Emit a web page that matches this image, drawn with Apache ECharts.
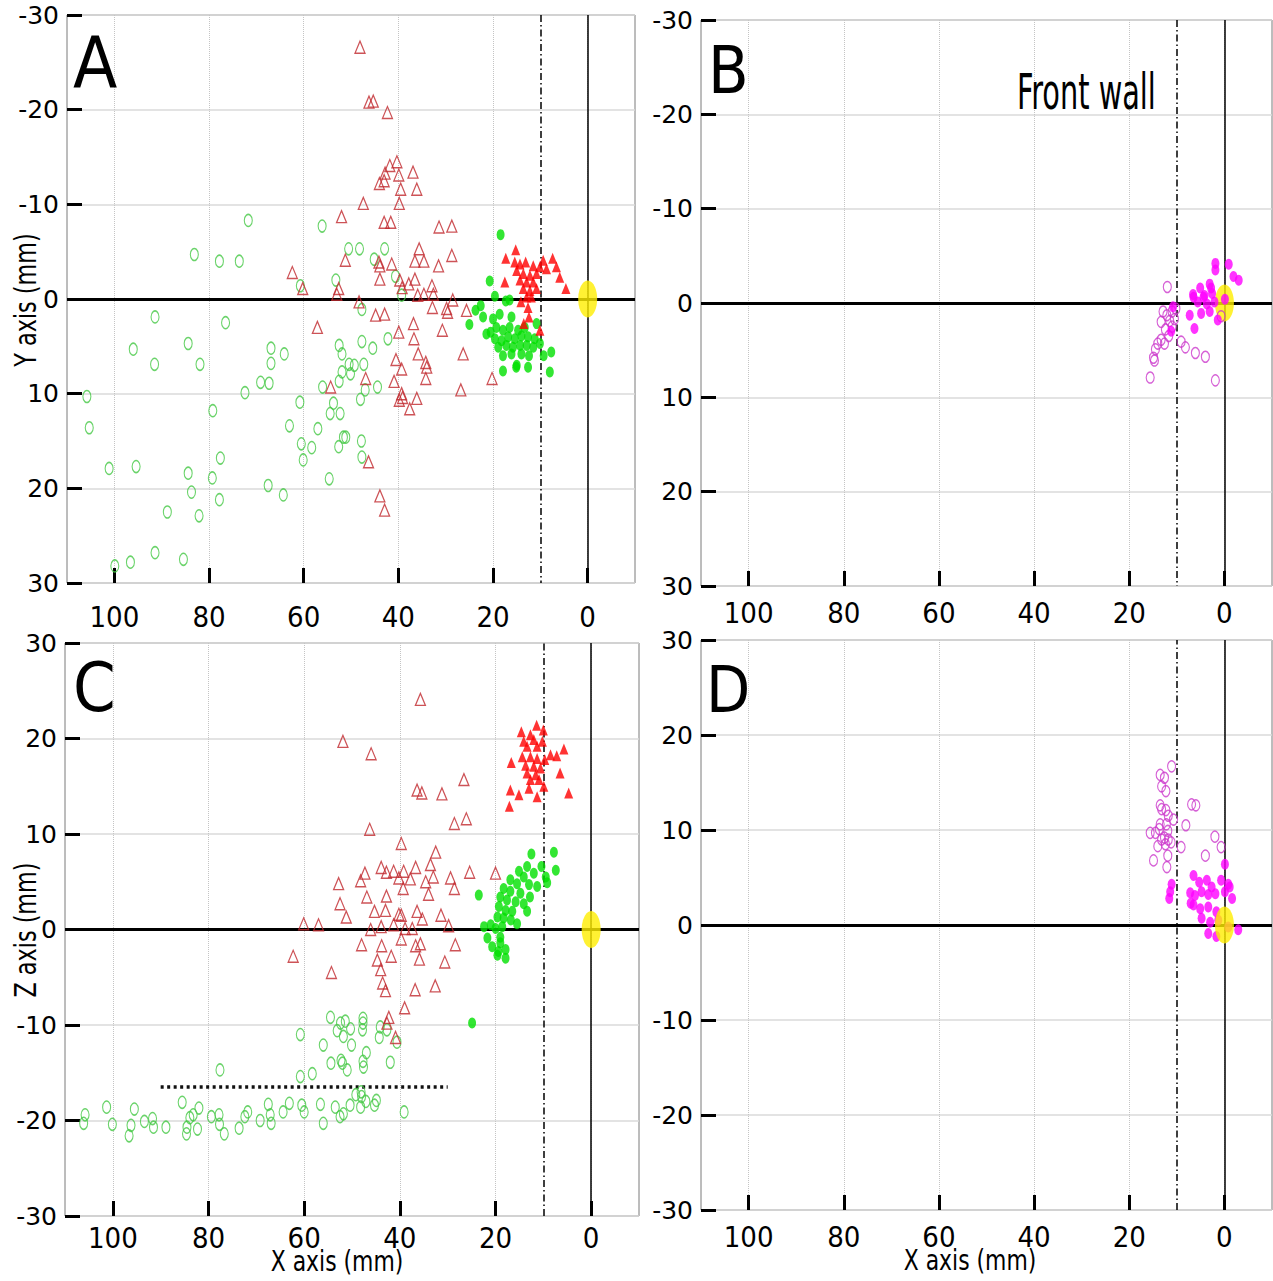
<!DOCTYPE html>
<html><head><meta charset="utf-8">
<script src="https://cdn.jsdelivr.net/npm/echarts@6/dist/echarts.min.js"></script>
<style>html,body{margin:0;padding:0;background:#fff}#c{width:1273px;height:1281px}</style>
</head><body><div id="c"></div>
<script>
// ---- tick labels ----
const xTicks = [0, 20, 40, 60, 80, 100];
const yTicks = [-30, -20, -10, 0, 10, 20, 30];
const origin = [[0, 0]];
const wallX = 10;
const dottedSegC = [[90, -16.5], [30, -16.5]];

// ---- Panel A (X vs Y) ----
const A_greenOpen = [[71.7,-8.3],[83.1,-4.7],[77.8,-4.0],[73.6,-4.0],[60.7,-1.4],[91.4,1.9],[76.5,2.5],[96.0,5.3],[84.4,4.7],[91.5,6.9],[81.9,6.9],[66.9,5.2],[66.9,6.8],[64.1,5.8],[69.1,8.8],[67.3,8.9],[72.4,9.9],[105.8,10.3],[79.2,11.8],[60.8,10.9],[105.3,13.6],[63.0,13.4],[60.5,15.3],[58.3,15.7],[60.1,17.0],[57.0,13.7],[101.1,17.9],[95.4,17.7],[77.6,16.8],[79.3,18.9],[84.4,18.4],[83.7,20.4],[67.5,19.7],[64.3,20.7],[77.8,21.2],[88.8,22.5],[82.1,22.9],[91.4,26.8],[96.6,27.8],[99.9,28.2],[85.4,27.5],[56.1,-7.7],[50.5,-5.3],[48.2,-5.3],[42.9,-5.3],[45.1,-4.2],[53.2,-2.0],[40.6,-2.4],[39.3,-0.4],[47.7,1.1],[52.5,4.9],[51.9,5.8],[47.7,4.5],[45.4,5.2],[42.2,4.2],[50.4,6.9],[49.3,7.0],[47.3,6.9],[51.9,7.7],[50.1,7.9],[52.5,8.7],[47.0,9.6],[44.4,9.3],[56.0,9.3],[48.0,10.6],[53.7,11.0],[54.4,12.1],[52.3,12.1],[51.6,14.6],[51.1,14.6],[47.8,15.0],[52.6,15.6],[47.7,16.7],[54.6,19.0]];
const A_redOpen = [[48.1,-26.6],[46.2,-20.8],[45.3,-20.9],[42.3,-19.7],[40.3,-14.5],[41.8,-14.1],[42.8,-13.3],[39.9,-13.1],[36.9,-13.4],[44.0,-12.2],[43.0,-12.5],[39.5,-11.6],[36.1,-11.6],[47.4,-10.1],[39.8,-10.1],[52.0,-8.7],[43.0,-8.1],[41.6,-8.1],[31.4,-7.6],[28.7,-7.7],[35.6,-5.3],[28.7,-4.6],[51.2,-4.1],[44.1,-3.9],[43.9,-3.5],[41.4,-3.7],[36.5,-4.0],[34.6,-4.0],[31.5,-3.5],[43.9,-2.1],[39.7,-2.0],[37.8,-1.6],[36.5,-2.1],[32.9,-1.4],[39.2,-1.2],[34.6,-0.5],[35.9,-0.4],[32.6,-0.5],[60.2,-1.1],[52.6,-1.1],[53.0,-0.5],[48.3,0.3],[28.5,0.1],[32.8,0.9],[29.8,1.0],[29.6,1.4],[25.6,1.2],[44.8,1.7],[42.9,1.6],[57.1,3.0],[36.8,2.6],[30.7,3.3],[39.9,3.5],[36.7,4.2],[35.8,5.8],[26.3,5.8],[40.5,6.4],[39.3,7.4],[34.2,6.7],[34.0,7.2],[46.9,8.4],[40.9,8.7],[34.2,8.4],[54.3,9.3],[26.8,9.6],[39.3,10.0],[39.1,10.4],[39.8,10.7],[36.1,10.5],[37.6,11.6],[46.3,17.2],[43.9,20.8],[42.9,22.3],[62.4,-2.8],[20.2,8.4]];
const A_greenFill = [[18.4,-6.8],[20.7,-1.9],[19.6,-0.3],[17.3,0.2],[16.5,0.1],[22.6,0.7],[23.7,1.2],[22.1,1.9],[25.0,2.7],[20.0,2.1],[18.6,1.6],[16.1,1.9],[21.4,3.7],[19.3,3.0],[17.9,3.3],[16.5,3.0],[14.7,3.3],[13.3,3.0],[19.6,4.2],[18.2,4.4],[16.8,4.0],[15.4,4.2],[14.0,3.9],[12.6,4.0],[11.2,4.2],[18.9,5.1],[17.2,4.9],[15.8,5.1],[14.3,4.9],[12.9,4.9],[11.5,5.1],[10.1,4.7],[17.9,6.0],[16.1,5.8],[14.0,5.8],[12.4,6.0],[9.3,6.0],[7.7,5.6],[8.0,7.7],[17.9,7.6],[15.0,7.0],[12.6,7.2],[10.8,2.6],[15.1,7.2],[20.5,3.5]];
const A_redFill = [[15.2,-5.2],[17.3,-4.3],[7.4,-4.3],[14.3,-3.7],[13.1,-3.9],[11.5,-3.5],[10.1,-3.4],[8.7,-3.2],[6.6,-3.4],[5.9,-2.3],[4.6,-1.1],[17.5,-1.8],[15.0,-3.0],[13.6,-2.7],[12.2,-2.5],[10.8,-2.7],[14.3,-2.0],[12.9,-1.8],[11.5,-1.8],[13.6,-1.1],[12.2,-0.9],[10.8,-1.1],[11.9,-0.2],[14.1,0.3],[12.6,0.9],[12.4,1.9],[13.5,2.6],[10.1,3.3],[12.9,-0.2],[15.4,-3.9],[9.4,-4.1]];

// ---- Panel B (X vs Y) ----
const B_magOpen = [[12.0,-1.7],[12.9,0.9],[12.1,1.3],[13.3,2.0],[11.5,1.9],[11.0,0.9],[10.5,1.7],[12.4,2.8],[11.7,3.5],[13.3,3.9],[14.0,4.3],[12.6,4.3],[14.5,4.9],[14.9,5.8],[14.7,6.1],[15.6,7.9],[9.1,4.1],[8.2,4.7],[6.1,5.3],[4.0,5.7],[1.9,8.2],[0.7,1.4],[11.0,2.5],[10.2,0.6]];
const B_magFill = [[1.9,-4.2],[1.9,-3.5],[-0.9,-4.1],[-1.9,-2.8],[-3.0,-2.4],[5.1,-1.6],[3.1,-2.0],[6.6,-0.9],[4.2,-0.8],[2.6,-1.0],[5.6,-0.1],[3.7,0.1],[2.1,-0.1],[7.3,1.3],[4.9,1.1],[3.1,0.9],[6.3,2.7],[1.4,1.8],[-0.1,-0.4],[10.8,0.4],[11.2,3.0],[4.4,-0.6],[6.5,-0.6],[2.8,-1.6]];

// ---- Panel C (X vs Z) ----
const C_greenOpen = [[54.5,-9.2],[52.4,-9.8],[51.4,-9.6],[53.1,-10.6],[50.3,-10.4],[51.8,-11.2],[47.7,-9.3],[47.7,-9.8],[47.8,-10.5],[44.1,-10.2],[44.3,-11.3],[42.7,-10.5],[40.6,-11.8],[60.8,-11.0],[56.0,-12.1],[50.1,-12.1],[47.0,-12.9],[54.4,-14.0],[52.3,-13.7],[52.0,-14.0],[51.0,-14.7],[47.7,-13.8],[47.6,-14.4],[42.0,-13.9],[60.8,-15.4],[58.3,-15.1],[77.6,-14.7],[105.8,-19.4],[106.1,-20.3],[101.3,-18.6],[100.1,-20.4],[96.6,-21.6],[96.2,-20.5],[95.5,-18.8],[93.4,-20.1],[91.7,-19.8],[91.5,-20.7],[88.9,-20.7],[85.5,-18.1],[84.5,-20.7],[84.6,-21.4],[83.9,-19.7],[83.2,-19.4],[82.0,-18.7],[82.3,-20.9],[79.4,-19.6],[77.8,-19.4],[77.7,-20.4],[76.7,-21.4],[73.6,-20.8],[72.4,-19.6],[71.8,-19.1],[69.2,-20.0],[67.5,-18.3],[67.1,-19.4],[66.9,-20.3],[64.4,-19.1],[63.1,-18.2],[60.5,-18.4],[60.0,-19.1],[56.6,-18.3],[56.0,-20.3],[53.5,-18.6],[52.5,-19.6],[51.8,-19.3],[50.4,-18.4],[49.2,-17.3],[48.1,-17.0],[48.0,-17.5],[47.1,-18.0],[48.2,-18.6],[45.3,-18.4],[44.9,-17.9],[39.1,-19.1]];
const C_redOpen = [[35.7,24.1],[51.9,19.7],[46.0,18.4],[36.4,14.6],[35.4,14.3],[31.2,14.2],[26.6,15.7],[28.6,11.1],[26.1,11.6],[46.3,10.5],[39.7,9.0],[32.5,8.1],[43.9,6.5],[42.8,6.0],[41.3,6.1],[39.2,6.1],[36.7,6.5],[33.6,6.8],[33.0,5.5],[34.6,5.0],[40.2,5.4],[37.8,5.3],[47.3,5.9],[48.2,5.1],[29.4,5.4],[28.6,4.3],[25.4,6.0],[20.0,5.9],[52.8,4.8],[39.3,4.3],[34.0,3.7],[42.8,3.5],[46.9,3.4],[52.5,2.7],[51.2,1.3],[45.3,1.9],[43.0,2.0],[36.4,1.9],[35.3,1.1],[31.4,1.5],[40.2,1.6],[39.7,1.5],[41.3,0.5],[38.9,0.1],[37.4,0.1],[29.8,0.4],[46.1,0.0],[43.9,0.3],[60.1,0.6],[57.0,0.5],[48.0,-1.6],[43.8,-1.7],[39.7,-1.0],[36.7,-1.7],[35.7,-1.5],[28.4,-1.6],[62.3,-2.8],[44.7,-3.2],[41.8,-2.8],[35.9,-3.1],[30.6,-3.4],[54.3,-4.5],[44.0,-4.2],[43.6,-5.6],[43.0,-6.4],[36.8,-6.3],[32.6,-5.9],[39.0,-8.2],[42.3,-9.2],[42.7,-9.8],[40.9,-11.3]];
const C_greenFill = [[23.5,3.6],[24.9,-9.8],[7.8,8.1],[7.4,6.2],[12.5,7.9],[10.4,6.6],[9.5,5.5],[9.2,4.9],[13.4,6.6],[15.1,6.1],[14.1,5.5],[12.0,5.9],[16.9,5.2],[15.5,4.8],[13.0,4.7],[11.3,4.5],[18.3,4.3],[16.9,4.0],[14.8,3.8],[12.8,3.4],[19.0,3.4],[17.6,3.1],[15.8,2.9],[14.1,2.7],[19.3,2.4],[17.9,2.0],[16.5,1.9],[13.4,1.9],[19.6,1.3],[18.3,1.2],[16.8,1.0],[15.5,0.6],[22.4,0.3],[21.0,0.5],[20.0,0.1],[18.6,0.3],[21.7,-0.9],[19.0,-0.8],[20.7,-1.8],[19.4,-2.3],[17.9,-2.1],[17.9,-3.0],[19.6,-2.7],[19.0,-1.4]];
const C_redFill = [[11.4,21.4],[10.0,20.9],[14.6,20.7],[12.7,20.4],[14.1,19.7],[12.0,19.9],[10.2,19.7],[13.4,19.2],[11.3,19.2],[8.5,18.3],[7.2,18.2],[5.7,18.9],[16.7,17.5],[14.4,18.1],[12.7,18.1],[11.3,17.9],[9.7,17.8],[13.7,17.2],[12.0,17.1],[10.6,16.9],[13.4,16.4],[11.6,16.2],[6.5,16.4],[12.7,15.7],[10.9,15.7],[16.9,14.6],[15.1,14.1],[13.0,14.8],[11.3,13.9],[9.9,15.0],[4.7,14.3],[17.1,12.9]];

// ---- Panel D (X vs Z) ----
const D_magOpen = [[11.1,16.7],[13.5,15.8],[12.6,15.5],[13.2,14.6],[12.3,14.1],[13.5,12.6],[13.2,12.2],[12.3,12.1],[11.8,11.5],[6.9,12.7],[6.0,12.6],[13.5,10.6],[12.2,10.6],[10.7,11.1],[8.1,10.5],[15.6,9.7],[14.5,9.7],[13.7,10.1],[11.9,9.9],[12.6,9.2],[13.2,9.0],[11.8,9.0],[14.0,8.3],[12.4,8.5],[11.2,8.7],[9.1,8.2],[14.9,6.8],[11.9,7.3],[12.1,6.1],[2.0,9.3],[0.7,8.2],[4.0,7.3]];
const D_magFill = [[-0.1,6.4],[11.4,3.5],[11.1,4.3],[11.6,2.8],[6.5,5.2],[5.3,4.5],[3.7,4.7],[2.7,4.0],[0.7,4.7],[-0.8,4.3],[7.2,3.4],[6.2,3.1],[4.8,3.5],[3.4,3.2],[1.9,3.3],[-0.1,3.5],[-1.6,2.8],[6.5,2.1],[5.1,1.7],[3.4,1.9],[1.7,1.4],[4.8,0.7],[3.0,0.3],[1.3,0.5],[3.4,-0.9],[1.7,-1.2],[-2.9,-0.5],[-0.8,-0.2],[7.1,2.3],[-1.1,4.0]];

// ---------------- chart ----------------
const GREEN_O = '#45c845', RED_O = '#c0282d', GREEN_F = '#00e000', RED_F = '#ff0000',
      MAG_O = '#cc3acc', MAG_F = '#ff00ff', YEL = '#ffee00';
const grids = [
  {left: 67, top: 15, width: 568, height: 568},
  {left: 701, top: 20, width: 571, height: 566},
  {left: 65, top: 643, width: 574, height: 573},
  {left: 701, top: 640, width: 571, height: 570}
].map(g => Object.assign({show: true, borderColor: '#7a7a7a', borderWidth: 1, backgroundColor: 'transparent'}, g));
const xLabelMargins = [19, 12, 7, 12];

const xAxes = grids.map((g, i) => ({
  type: 'value', gridIndex: i, min: -10, max: 110, inverse: true, splitNumber: 6,
  axisLine: {show: false, onZero: false},
  axisTick: {show: true, inside: true, length: 15, customValues: xTicks, lineStyle: {color: '#000', width: 3}},
  axisLabel: {customValues: xTicks, color: '#000',
              fontFamily: '"Liberation Sans Narrow", "DejaVu Sans Condensed", sans-serif', fontSize: 29, margin: xLabelMargins[i]},
  splitLine: {show: true, lineStyle: {color: '#c4c4c4', type: 'dotted', width: 1}}
}));
const yAxes = grids.map((g, i) => ({
  type: 'value', gridIndex: i, min: yTicks[0], max: yTicks[yTicks.length - 1], interval: 10, inverse: i < 2,
  axisLine: {show: false, onZero: false},
  axisTick: {show: true, inside: true, length: 15, lineStyle: {color: '#000', width: 3}},
  axisLabel: {color: '#000', fontFamily: '"DejaVu Sans", sans-serif', fontSize: 25, margin: 8},
  splitLine: {show: true, lineStyle: {color: '#dadada', type: 'solid', width: 1.5}}
}));

function scat(gi, data, kind) {
  const s = {type: 'scatter', xAxisIndex: gi, yAxisIndex: gi, data: data, silent: true, z: 3};
  if (kind === 'gO') Object.assign(s, {symbol: 'circle', symbolSize: [8, 12], itemStyle: {color: 'rgba(0,0,0,0)', borderColor: GREEN_O, borderWidth: 1.3}});
  if (kind === 'rO') Object.assign(s, {symbol: 'triangle', symbolSize: [10, 12], itemStyle: {color: 'rgba(0,0,0,0)', borderColor: RED_O, borderWidth: 1.3}});
  if (kind === 'gF') Object.assign(s, {symbol: 'circle', symbolSize: [8, 11], itemStyle: {color: GREEN_F}});
  if (kind === 'rF') Object.assign(s, {symbol: 'triangle', symbolSize: [9, 11], itemStyle: {color: RED_F}});
  if (kind === 'mO') Object.assign(s, {symbol: 'circle', symbolSize: [8, 11], itemStyle: {color: 'rgba(0,0,0,0)', borderColor: MAG_O, borderWidth: 1.3}, z: 5});
  if (kind === 'mF') Object.assign(s, {symbol: 'circle', symbolSize: [8, 11], itemStyle: {color: MAG_F}, z: 5});
  return s;
}
function originSeries(gi, zOrder, extraLines) {
  const lines = [
    {yAxis: 0, lineStyle: {color: '#000', width: 3, type: 'solid'}},
    {xAxis: 0, lineStyle: {color: '#000', width: 1.5, type: 'solid'}},
    {xAxis: wallX, lineStyle: {color: '#000', width: 1.5, type: [7, 3, 1.5, 3]}}
  ].concat(extraLines || []);
  return {type: 'scatter', xAxisIndex: gi, yAxisIndex: gi, data: origin, silent: true, z: zOrder,
    symbol: 'circle', symbolSize: [19, 37], itemStyle: {color: YEL},
    markLine: {silent: true, z: 1, symbol: ['none', 'none'], label: {show: false}, animation: false, data: lines}};
}
const series = [
  originSeries(0, 4), scat(0, A_greenOpen, 'gO'), scat(0, A_redOpen, 'rO'), scat(0, A_greenFill, 'gF'), scat(0, A_redFill, 'rF'),
  originSeries(1, 4), scat(1, B_magOpen, 'mO'), scat(1, B_magFill, 'mF'),
  originSeries(2, 4, [[{coord: dottedSegC[0], lineStyle: {color: '#111', width: 3.5, type: [3, 3.5]}}, {coord: dottedSegC[1]}]]),
  scat(2, C_greenOpen, 'gO'), scat(2, C_redOpen, 'rO'), scat(2, C_greenFill, 'gF'), scat(2, C_redFill, 'rF'),
  originSeries(3, 6), scat(3, D_magOpen, 'mO'), scat(3, D_magFill, 'mF')
];

const NARROW = '"Liberation Sans Narrow", "DejaVu Sans Condensed", sans-serif';
function txt(text, x, y, size, opts) {
  return Object.assign({type: 'text', x: x, y: y, silent: true, z: 100,
    style: {text: text, fill: '#000', fontFamily: NARROW, fontSize: size, align: (opts && opts.align) || 'left', verticalAlign: 'middle'}},
    opts && opts.el ? opts.el : {});
}
const graphic = [
  txt('A', 73, 62, 72), txt('B', 708, 70, 66), txt('C', 73, 687, 68), txt('D', 706, 690, 64),
  txt('Front wall', 1017, 92, 50, {el: {scaleX: 0.64}}),
  txt('Y axis (mm)', 26, 300, 31, {align: 'center', el: {rotation: Math.PI / 2, scaleX: 0.8}}),
  txt('Z axis (mm)', 26, 930, 31, {align: 'center', el: {rotation: Math.PI / 2, scaleX: 0.8}}),
  txt('X axis (mm)', 337, 1261, 29, {align: 'center', el: {scaleX: 0.84}}),
  txt('X axis (mm)', 970, 1260, 29, {align: 'center', el: {scaleX: 0.84}})
];

const chart = echarts.init(document.getElementById('c'), null, {renderer: 'svg'});
chart.setOption({
  animation: false, backgroundColor: '#fff',
  grid: grids, xAxis: xAxes, yAxis: yAxes, series: series, graphic: graphic
});
</script></body></html>
